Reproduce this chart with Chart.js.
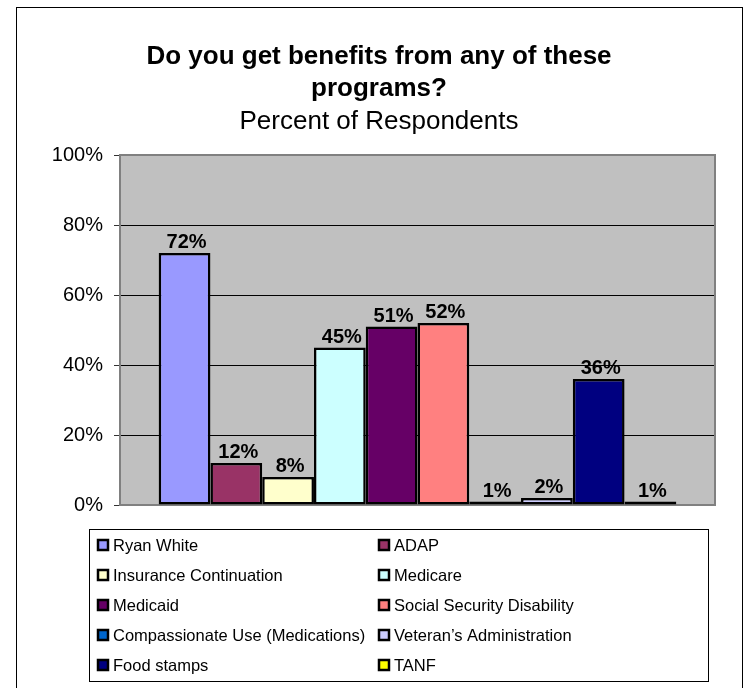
<!DOCTYPE html>
<html>
<head>
<meta charset="utf-8">
<title>Do you get benefits from any of these programs?</title>
<script src="https://cdn.jsdelivr.net/npm/chart.js@4.4.1/dist/chart.umd.min.js"></script>
<style>
    html, body { margin: 0; padding: 0; background: #fff; }
    canvas { display: block; }
</style>
</head>
<body>
<canvas id="benefits-chart" width="745" height="688"></canvas>
<script>
/**
 * Chart: Do you get benefits from any of these programs?
 */

const programs = [
    'Ryan White',
    'ADAP',
    'Insurance Continuation',
    'Medicare',
    'Medicaid',
    'Social Security Disability',
    'Compassionate Use (Medications)',
    'Veteran\u2019s Administration',
    'Food stamps',
    'TANF'
];
const percentRespondents = [72, 12, 8, 45, 51, 52, 1, 2, 36, 1];
const programColors = [
    '#9999FF', '#993366', '#FFFFCC', '#CCFFFF', '#660066',
    '#FF8080', '#0066CC', '#CCCCFF', '#000080', '#FFFF00'
];
const yTicks = [0, 20, 40, 60, 80, 100];

const FONT = '"Liberation Sans", Arial, Helvetica, sans-serif';

/**
 * Outer frame + gray plot background
 */
const backgroundPlugin = {
    id: 'background',
    beforeDraw(chart) {
        const { ctx, chartArea } = chart;
        ctx.save();
        ctx.strokeStyle = '#000';
        ctx.lineWidth = 1;
        ctx.strokeRect(16.5, 7.5, 726, 700);
        ctx.fillStyle = '#C0C0C0';
        ctx.fillRect(chartArea.left, chartArea.top,
            chartArea.right - chartArea.left, chartArea.bottom - chartArea.top);
        ctx.restore();
    },
    beforeDatasetsDraw(chart) {
        const { ctx, chartArea } = chart;
        ctx.save();
        ctx.strokeStyle = '#808080';
        ctx.lineWidth = 2;
        ctx.strokeRect(chartArea.left, chartArea.top,
            chartArea.right - chartArea.left, chartArea.bottom - chartArea.top);
        ctx.restore();
    }
};

/**
 * Value labels above each bar
 */
const valueLabelsPlugin = {
    id: 'valueLabels',
    afterDatasetsDraw(chart) {
        const { ctx } = chart;
        ctx.save();
        ctx.font = 'bold 20px ' + FONT;
        ctx.fillStyle = '#000';
        ctx.textAlign = 'center';
        ctx.textBaseline = 'alphabetic';
        chart.data.datasets.forEach((ds, i) => {
            const bar = chart.getDatasetMeta(i).data[0];
            if (!bar) return;
            ctx.fillText(ds.data[0] + '%', bar.x + 2, bar.y - 5);
        });
        ctx.restore();
    }
};

/**
 * Boxed legend in two columns (Excel style)
 */
const boxLegendPlugin = {
    id: 'boxLegend',
    afterDraw(chart) {
        const { ctx } = chart;
        const colX = [97, 378];
        const firstBaseline = 551;
        const rowStep = 30;
        ctx.save();
        ctx.strokeStyle = '#000';
        ctx.lineWidth = 1;
        ctx.strokeRect(89.5, 529.5, 619, 152);
        ctx.font = '16.5px ' + FONT;
        ctx.textAlign = 'left';
        ctx.textBaseline = 'alphabetic';
        chart.data.datasets.forEach((ds, i) => {
            const x = colX[i % 2];
            const base = firstBaseline + rowStep * Math.floor(i / 2);
            ctx.fillStyle = ds.backgroundColor;
            ctx.fillRect(x, base - 12, 12, 12);
            ctx.lineWidth = 2.5;
            ctx.strokeStyle = '#000';
            ctx.strokeRect(x + 1, base - 11, 10, 10);
            ctx.fillStyle = '#000';
            ctx.fillText(ds.label, x + 16, base);
        });
        ctx.restore();
    }
};

function createBenefitsChart() {
    const ctx = document.getElementById('benefits-chart');

    const datasets = programs.map((name, i) => ({
        label: name,
        data: [percentRespondents[i]],
        backgroundColor: programColors[i],
        borderColor: '#000',
        borderWidth: 2.5,
        borderSkipped: false,
        categoryPercentage: 0.87,
        barPercentage: 1
    }));

    return new Chart(ctx, {
        type: 'bar',
        data: {
            labels: [''],
            datasets: datasets
        },
        options: {
            responsive: false,
            devicePixelRatio: 1,
            animation: false,
            layout: {
                padding: { top: 0, left: 16, right: 3, bottom: 183 }
            },
            plugins: {
                legend: { display: false },
                tooltip: { enabled: false },
                title: {
                    display: true,
                    text: ['Do you get benefits from any of these', 'programs?'],
                    color: '#000',
                    font: { family: FONT, size: 26, weight: 'bold', lineHeight: 32 / 26 },
                    padding: { top: 41, bottom: 0 }
                },
                subtitle: {
                    display: true,
                    text: 'Percent of Respondents',
                    color: '#000',
                    font: { family: FONT, size: 26, weight: 'normal', lineHeight: 30 / 26 },
                    padding: { top: 2, bottom: 18 }
                }
            },
            scales: {
                x: {
                    display: false
                },
                y: {
                    min: 0,
                    max: 100,
                    afterBuildTicks: function(scale) {
                        scale.ticks = yTicks.map(v => ({ value: v }));
                    },
                    afterFit: function(scale) {
                        scale.width = 104;
                    },
                    ticks: {
                        color: '#000',
                        padding: 11,
                        font: { family: FONT, size: 20 },
                        callback: function(value) {
                            return value + '%';
                        }
                    },
                    grid: {
                        color: '#000',
                        lineWidth: 1,
                        tickLength: 6,
                        tickColor: '#333'
                    },
                    border: {
                        color: '#808080',
                        width: 2
                    }
                },
                yRight: {
                    type: 'linear',
                    position: 'right',
                    ticks: { display: false },
                    grid: { display: false, drawOnChartArea: false },
                    border: { display: false },
                    afterFit: function(scale) {
                        scale.width = 27;
                    }
                }
            }
        },
        plugins: [backgroundPlugin, valueLabelsPlugin, boxLegendPlugin]
    });
}

createBenefitsChart();
</script>
</body>
</html>
